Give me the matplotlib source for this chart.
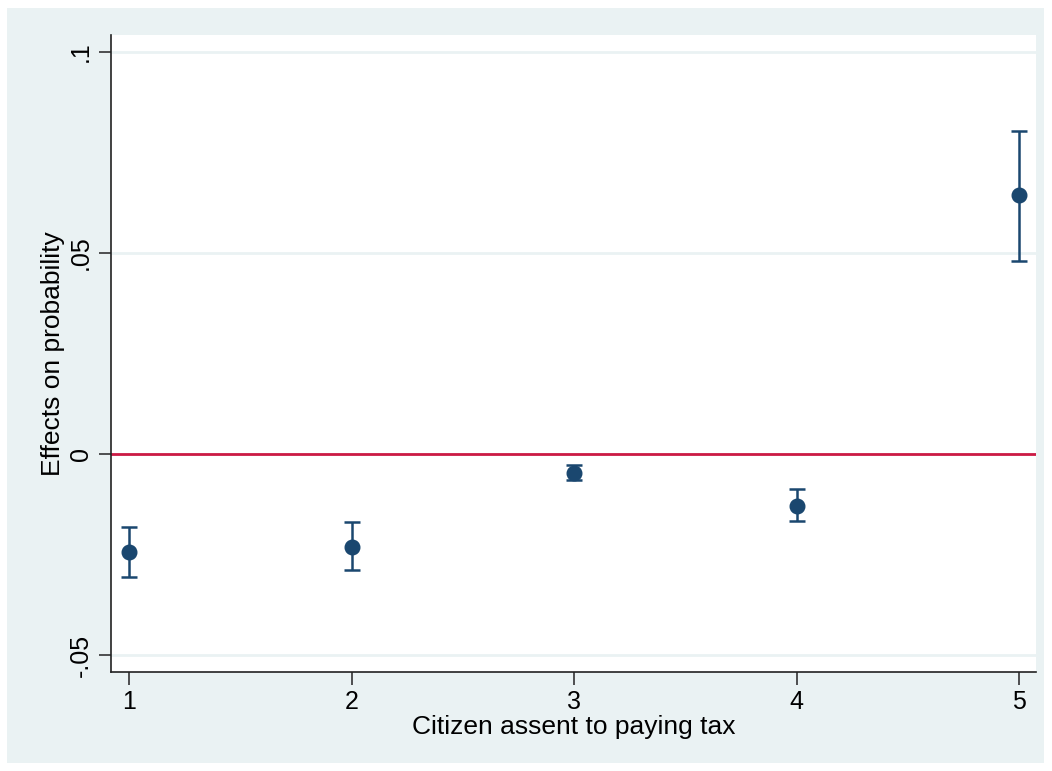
import matplotlib

matplotlib.use("Agg")
import matplotlib.pyplot as plt
from matplotlib.patches import Rectangle

plt.rcParams["font.family"] = ["Liberation Sans", "DejaVu Sans"]

# assent level on x, marginal effect with 95% CI
levels = [1, 2, 3, 4, 5]
effects = [-0.0243, -0.0231, -0.00465, -0.0129, 0.0643]
ci_hi = [-0.0182, -0.0170, -0.0027, -0.0088, 0.0804]
ci_lo = [-0.0305, -0.0289, -0.0065, -0.0166, 0.0481]

yticks = [-0.05, 0, 0.05, 0.1]
ytick_labels = ["-.05", "0", ".05", ".1"]

NAVY = "#1a476f"
BG = "#eaf2f3"

fig = plt.figure(figsize=(10.52, 7.71), dpi=100)
W, H = 1052, 771
# Stata-style outer panel, kept behind the axes
fig.patches.append(Rectangle((7 / W, 1 - 763 / H), (1044 - 7) / W, (763 - 8) / H,
                             transform=fig.transFigure, facecolor=BG,
                             edgecolor="none", zorder=-10))

ax = fig.add_axes([111 / W, 1 - 672 / H, (1036 - 111) / W, (672 - 35) / H])
ax.set_facecolor("white")

for yt in yticks:
    ax.axhline(yt, color=BG, lw=2, zorder=1)
ax.axhline(0, color="#cc1a44", lw=2, zorder=2)

err_lo = [e - l for e, l in zip(effects, ci_lo)]
err_hi = [h - e for e, h in zip(effects, ci_hi)]
ax.errorbar(levels, effects, yerr=[err_lo, err_hi], fmt="o", color=NAVY,
            ms=10.5, elinewidth=1.8, capsize=5.5, capthick=1.8, zorder=3)

ax.set_xlim(0.919, 5.076)
ax.set_ylim(-0.0542, 0.1042)
ax.set_xticks(levels)
ax.set_yticks(yticks)
ax.set_yticklabels(ytick_labels, rotation=90, va="center")

for s in ["top", "right"]:
    ax.spines[s].set_visible(False)
for s in ["left", "bottom"]:
    ax.spines[s].set_color("#222222")
    ax.spines[s].set_linewidth(1.2)
ax.tick_params(direction="out", length=9, width=1.2, color="#333333",
               labelsize=18, pad=4)

ax.set_xlabel("Citizen assent to paying tax", fontsize=19, labelpad=1)
ax.set_ylabel("Effects on probability", fontsize=19, labelpad=3)

fig.savefig("out.png", dpi=100)
